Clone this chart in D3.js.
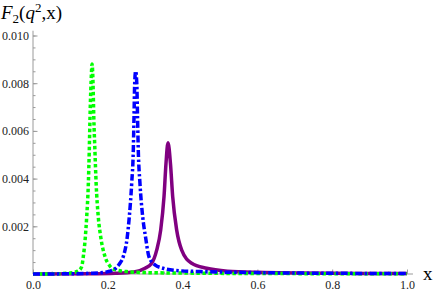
<!DOCTYPE html>
<html>
<head>
<meta charset="utf-8">
<script src="https://cdn.jsdelivr.net/npm/d3@7"></script>
<style>
  body { margin: 0; background: #fff; }
  text { font-family: "Liberation Serif", "DejaVu Serif", serif; }
</style>
</head>
<body>
<div class="container"></div>
<script>
// values: [x, F2]
const greenPts = [
  [0, 0], [0.06, 0.00001], [0.10, 0.00004], [0.12, 0.00012], [0.13, 0.0003],
  [0.1345, 0.00073], [0.140, 0.00156], [0.1436, 0.0024], [0.148, 0.0038],
  [0.1505, 0.0052], [0.1525, 0.0066], [0.1552, 0.0080], [0.158, 0.0088],
  [0.1605, 0.0080], [0.1625, 0.0066], [0.1655, 0.0052], [0.1688, 0.0038],
  [0.1745, 0.0024], [0.181, 0.00156], [0.1925, 0.00073], [0.205, 0.00035],
  [0.22, 0.00018], [0.25, 0.0001], [0.30, 0.00006], [0.40, 0.00004],
  [0.60, 0.00002], [1.0, 0.00001]
];
const bluePts = [
  [0, 0], [0.10, 0.00001], [0.15, 0.00003], [0.19, 0.00007], [0.2147, 0.00017],
  [0.23, 0.0004], [0.2414, 0.00073], [0.2521, 0.00156], [0.2575, 0.0024],
  [0.2639, 0.0038], [0.2682, 0.0052], [0.2701, 0.0066], [0.2719, 0.0080],
  [0.2745, 0.0085], [0.2775, 0.0080], [0.2795, 0.0066], [0.2815, 0.0052],
  [0.286, 0.0038], [0.2933, 0.0024], [0.3008, 0.00156], [0.310, 0.00073],
  [0.326, 0.00038], [0.348, 0.00024], [0.38, 0.00015], [0.45, 0.0001],
  [0.55, 0.00007], [0.7, 0.00004], [1.0, 0.00002]
];
const purplePts = [
  [0, 0], [0.15, 0.00001], [0.22, 0.00003], [0.27, 0.00008], [0.2995, 0.00024],
  [0.3174, 0.00045], [0.3307, 0.001], [0.3414, 0.00184], [0.3503, 0.00324],
  [0.3556, 0.00464], [0.361, 0.0055], [0.3675, 0.00464], [0.3735, 0.00324],
  [0.3842, 0.00184], [0.3976, 0.001], [0.4243, 0.00045], [0.4644, 0.00024],
  [0.52, 0.00012], [0.6, 0.00007], [0.8, 0.00003], [1.0, 0.00002]
];
const xTicks = [0, 0.2, 0.4, 0.6, 0.8, 1.0];
const yTicks = [0.002, 0.004, 0.006, 0.008, 0.010];
const xMinor = d3.range(0, 1.0001, 0.05);
const yMinor = d3.range(0.0005, 0.01001, 0.0005);

const width = 436;
const height = 294;
const serif = "'Liberation Serif', 'DejaVu Serif', serif";

const svg = d3.select(".container")
  .append("svg")
  .attr("width", width)
  .attr("height", height);

const x = d3.scaleLinear().domain([0, 1]).range([33, 407]);
const y = d3.scaleLinear().domain([0, 0.01]).range([274, 35.5]);

const axisColor = "#9a9a9a";

// x axis
const xAxis = svg.append("g").attr("transform", `translate(0,${y(0)})`);
xAxis.call(d3.axisBottom(x).tickValues(xMinor).tickSize(-2.5).tickFormat(""));
xAxis.call(g => g.select(".domain").remove());
const xMaj = svg.append("g").attr("transform", `translate(0,${y(0)})`)
  .call(d3.axisBottom(x).tickValues(xTicks).tickSize(-4.5).tickPadding(6)
    .tickFormat(d3.format(".1f")));
xMaj.select(".domain").remove();
svg.append("line")
  .attr("x1", x(0)).attr("x2", x(1.016))
  .attr("y1", y(0)).attr("y2", y(0))
  .attr("stroke", axisColor);

// y axis
const yAxis = svg.append("g").attr("transform", `translate(${x(0)},0)`);
yAxis.call(d3.axisLeft(y).tickValues(yMinor).tickSize(-2.5).tickFormat(""));
yAxis.call(g => g.select(".domain").remove());
const yMaj = svg.append("g").attr("transform", `translate(${x(0)},0)`)
  .call(d3.axisLeft(y).tickValues(yTicks).tickSize(-4.5).tickPadding(4)
    .tickFormat(d3.format(".3f")));
yMaj.select(".domain").remove();
svg.append("line")
  .attr("x1", x(0)).attr("x2", x(0))
  .attr("y1", y(0)).attr("y2", y(0.0102))
  .attr("stroke", axisColor);

[xMaj, yMaj].forEach(g => g.attr("font-family", serif).attr("font-size", 12));
svg.selectAll(".tick line").attr("stroke", axisColor);
svg.selectAll(".tick text")
  .attr("fill", "#222")
  .style("font-family", serif)
  .style("font-size", "12px");

// axis labels
svg.append("text")
  .attr("x", x(1.016) + 10)
  .attr("y", y(0) + 6)
  .style("font-size", "19px")
  .text("x");

const title = svg.append("text")
  .attr("x", 1)
  .attr("y", 19)
  .style("font-size", "19px");
title.append("tspan").style("font-style", "italic").text("F");
title.append("tspan").attr("dy", 4).style("font-size", "13px").text("2");
title.append("tspan").attr("dy", -4).text("(");
title.append("tspan").style("font-style", "italic").text("q");
title.append("tspan").attr("dy", -7).style("font-size", "13px").text("2");
title.append("tspan").attr("dy", 7).text(",x)");

// curves
const line = d3.line()
  .x(d => x(d[0]))
  .y(d => y(d[1]))
  .curve(d3.curveMonotoneX);

const plot = svg.append("g").attr("fill", "none");

plot.append("path")
  .datum(purplePts)
  .attr("d", line)
  .attr("stroke", "#800080")
  .attr("stroke-width", 3.5);

plot.append("path")
  .datum(greenPts)
  .attr("d", line)
  .attr("stroke", "#00ff00")
  .attr("stroke-width", 3.5)
  .attr("stroke-dasharray", "3.5,2.5");

plot.append("path")
  .datum(bluePts)
  .attr("d", line)
  .attr("stroke", "#0000ff")
  .attr("stroke-width", 3.5)
  .attr("stroke-dasharray", "7,2.5,2.5,2.5");
</script>
</body>
</html>
